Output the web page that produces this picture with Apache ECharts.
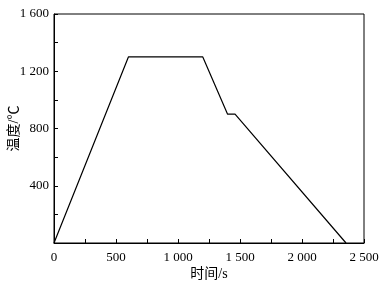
<!DOCTYPE html>
<html><head><meta charset="utf-8">
<script src="https://cdn.jsdelivr.net/npm/echarts@6/dist/echarts.min.js"></script>
<style>html,body{margin:0;padding:0;background:#fff}#c{width:382px;height:283px}</style>
</head><body><div id="c"></div>
<script>
var timeS = [0, 600, 1200, 1400, 1460, 2355];
var tempC = [0, 1300, 1300, 900, 900, 0];
var xTicks = [0, 500, 1000, 1500, 2000, 2500];
var yTicks = [0, 400, 800, 1200, 1600];

var FONT = '"Liberation Serif", "Noto Sans CJK SC", serif';
function fmt(v){ if (v === 0) return '0'; var s = String(v); return s.length > 3 ? s.slice(0, s.length-3) + ' ' + s.slice(-3) : s; }
var data = timeS.map(function(t,i){ return [t, tempC[i]]; });
var chart = echarts.init(document.getElementById('c'), null, {renderer:'canvas'});
chart.setOption({
  animation:false,
  grid:{left:54, right:18, top:14, bottom:40, containLabel:false, outerBoundsMode:'none', show:true, borderColor:'#000', borderWidth:1, backgroundColor:'transparent'},
  xAxis:{type:'value', min:xTicks[0], max:xTicks[xTicks.length-1], interval:500,
    name:'时间/s', nameLocation:'middle', nameGap:24, nameMoveOverlap:false,
    nameTextStyle:{fontFamily:FONT, fontSize:14, color:'#000'},
    axisLine:{lineStyle:{color:'#000', width:1}},
    axisTick:{inside:true, length:4, lineStyle:{color:'#000'}},
    minorTick:{show:true, splitNumber:2, length:4, lineStyle:{color:'#000'}},
    axisLabel:{fontFamily:FONT, fontSize:13, color:'#000', margin:8, formatter:fmt},
    splitLine:{show:false}},
  yAxis:{type:'value', min:yTicks[0], max:yTicks[yTicks.length-1], interval:400,
    name:'温度/℃', nameLocation:'middle', nameGap:33, nameRotate:90, nameMoveOverlap:false,
    nameTextStyle:{fontFamily:FONT, fontSize:14, color:'#000'},
    axisLine:{lineStyle:{color:'#000', width:1}},
    axisTick:{inside:true, length:4, lineStyle:{color:'#000'}},
    minorTick:{show:true, splitNumber:2, length:4, lineStyle:{color:'#000'}},
    axisLabel:{fontFamily:FONT, fontSize:13, color:'#000', margin:5, formatter:function(v){ return v===0 ? '' : fmt(v); }},
    splitLine:{show:false}},
  series:[{type:'line', data:data, symbol:'none', lineStyle:{color:'#000', width:1.2}}]
});
</script></body></html>
